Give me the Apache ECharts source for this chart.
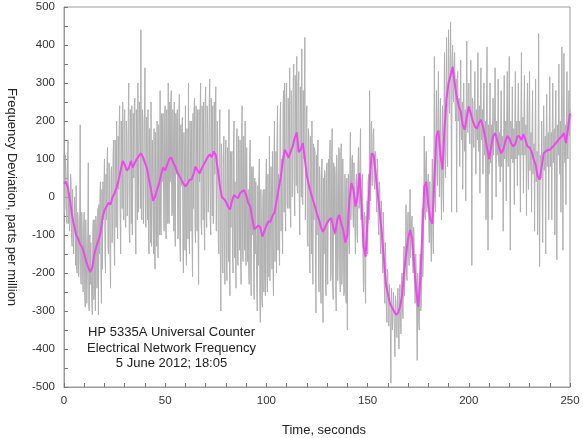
<!DOCTYPE html>
<html>
<head>
<meta charset="utf-8">
<script src="https://cdn.jsdelivr.net/npm/echarts@6/dist/echarts.min.js"></script>
<style>html,body{margin:0;padding:0;background:#fff}#c{width:583px;height:438px}</style>
</head>
<body>
<div id="c"></div>
<script>
// Sample spacing (seconds)
const rawStep = 0.5;      // rawPpm at t = 0, 0.5, 1, ...
const smoothStep = 1;

// Raw counter readings (grey), ppm, at t = 0, 0.5, ... 250
const rawPpm = [
 110,-30,60,-70,150,10,-60,40,-130,20,-150,-30,30,-200,-60,-160,190,-230,-80,-250,
 -40,-290,-120,-220,90,-300,-230,-120,-310,-60,-250,-300,-80,-220,-310,-150,40,-280,-190,-60,
 100,-200,-60,130,-150,20,-240,80,-90,150,-180,60,200,-110,20,240,-150,130,250,-60,
 230,-80,160,20,300,-120,180,240,-100,50,260,-150,120,300,-40,180,440,-60,200,40,
 340,-80,110,230,-150,60,250,-130,0,180,-190,30,200,-160,90,280,-100,40,220,-90,
 240,-110,150,300,-70,40,280,-40,180,250,-130,60,230,-100,270,-170,30,210,-200,100,
 240,-180,70,300,-150,120,200,-210,-30,260,-120,150,230,-230,40,300,-100,160,250,-140,
 290,-80,180,40,310,-100,160,240,-50,60,290,-90,200,-150,230,-300,100,-200,160,-230,
 150,-220,60,230,-260,-80,120,-200,200,40,-240,180,-180,80,150,-230,240,-170,60,200,
 -180,130,20,-230,150,-260,-100,80,-270,-150,40,-300,-180,100,-330,-40,-290,20,-200,-260,
 100,-250,-40,160,-220,20,120,-260,200,-60,-200,240,60,-180,250,100,-150,280,300,-90,
 300,-30,190,340,-80,250,60,350,-50,200,370,10,330,-100,220,390,-20,100,420,-60,
 240,-130,150,-200,30,200,-230,-60,120,-305,-100,150,-250,50,-280,100,-330,-150,60,-260,
 90,-230,-60,150,-200,180,-270,-100,60,-300,40,-150,120,-250,140,-190,-20,-250,30,-280,
 -350,60,-150,170,-60,110,-80,90,-150,60,-120,130,-20,180,-60,60,-250,-40,-280,-80,
 -150,60,280,-10,200,40,180,20,120,-40,80,-100,20,-150,-50,-200,-100,-280,-170,-330,
 -200,-340,-230,-490,-240,-350,-250,-420,-280,-370,-240,-400,-230,-360,-200,-320,-130,-260,-20,-220,
 -40,-180,20,-160,-50,-200,-120,-280,-190,-430,-230,-350,-150,-280,-30,-170,160,-60,120,-40,
 60,-120,40,-170,100,-150,370,-40,280,30,330,0,260,-60,240,-40,380,50,420,80,
 440,220,460,-40,400,250,380,200,-40,330,210,80,360,150,20,300,120,-10,410,170,
 300,140,360,-180,250,130,330,60,200,380,120,10,340,160,60,300,110,-60,395,-140,
 60,300,130,-60,260,180,340,0,200,310,80,40,280,150,-90,320,180,-10,330,80,
 370,-140,180,290,100,-20,330,160,30,300,200,-40,380,120,10,320,140,-50,300,20,
 330,120,-40,280,100,-90,310,60,-100,430,-183,100,200,-120,240,90,-150,270,130,-60,
 317,110,-60,300,160,-100,280,-165,140,350,60,-40,395,-140,378,90,-20,330,100,280,
 230
];

// Raw counter readings (grey), ppm, in-between samples at t = 0.25, 0.75, ... 249.75
const rawPpmMid = [
 -40,110,-60,100,-70,-90,60,-110,20,-150,0,-180,-190,-40,-210,-50,-220,-40,-230,-60,
 -260,-60,-280,-90,-290,-100,-120,-280,-90,-270,-60,-50,-240,-30,-20,0,-200,20,40,30,
 -150,60,80,-140,90,-160,70,-120,110,-110,150,-80,-60,160,180,-40,200,-30,-20,200,
 -60,200,-50,210,-90,230,-70,-100,220,240,-80,230,-60,-40,250,-30,-50,230,-70,220,
 -70,210,-60,-100,180,-120,-130,150,-150,-140,170,-130,-110,190,-100,-80,220,210,-60,220,
 -80,230,-70,-60,250,240,-50,230,-90,-80,220,210,-110,200,-120,190,180,-130,170,-140,
 -120,180,-110,-100,200,-90,-100,220,230,-80,240,-90,-80,230,220,-70,240,-60,-70,250,
 -50,240,-40,250,-60,260,-50,-70,250,230,-90,200,-120,170,-150,140,-170,120,-180,110,
 -160,130,-170,-180,120,110,-150,140,-160,-150,150,-170,160,-140,-160,170,-150,160,-140,-170,
 130,-170,-190,110,-200,80,60,-240,50,40,-250,30,40,-260,20,-270,0,-250,20,40,
 -200,60,-210,-220,80,-190,-180,100,-170,120,140,-140,-120,180,-90,-60,240,-40,-20,260,
 -20,260,-30,-10,280,0,300,20,320,30,20,300,-10,290,0,-10,280,250,-60,220,
 -110,180,-130,160,-150,-160,140,130,-190,110,100,-210,80,-230,60,-250,50,70,-240,80,
 -230,100,120,-220,110,-240,90,80,-250,110,-220,130,-210,120,-230,100,-260,60,-270,50,
 -20,-120,80,-60,100,-40,90,-80,40,-90,80,-30,100,-60,30,-160,-60,-220,-50,-10,
 40,-60,40,190,30,160,40,120,20,100,-60,40,-110,-10,-140,-40,-230,-120,-290,-190,
 -330,-230,-340,-240,-350,-250,-350,-260,-350,-270,-350,-260,-330,-240,-300,-180,-260,-120,-210,-80,
 -150,-50,-160,-60,-170,-80,-230,-150,-300,-200,-330,-210,-300,-150,-210,-20,-50,80,-40,30,
 -80,40,-110,20,-100,80,0,150,60,210,80,180,40,150,20,220,100,250,150,280,
 250,340,270,360,260,350,240,310,300,200,260,240,170,250,230,150,230,250,180,270,
 180,280,170,260,150,240,140,230,150,130,240,250,150,230,240,110,200,210,70,190,
 170,90,190,200,110,210,130,200,110,90,170,180,80,160,180,100,200,210,110,200,
 100,200,100,90,180,190,100,200,210,110,120,200,110,210,200,110,190,190,90,180,
 70,170,160,60,140,130,40,120,100,10,110,50,40,140,70,160,170,80,170,170,
 80,170,180,90,180,190,100,190,110,100,200,210,120,210,120,190,210,110,220,160
];

// Smoothed trace (magenta), ppm, one per second from t=0 to t=250
const smoothPpm = [
 35,40,22,-10,-50,-75,-100,-110,-125,-132,
 -150,-170,-185,-198,-185,-150,-130,-115,-95,-55,
 -35,-25,-15,-20,0,10,25,45,70,95,
 85,70,75,95,78,90,100,108,115,105,
 90,75,45,20,-10,0,20,35,60,78,
 70,85,100,104,90,80,65,55,45,35,
 28,35,45,46,60,80,70,62,75,85,
 95,105,112,105,120,110,72,30,0,-5,
 -12,-25,-33,-10,5,0,-3,10,15,18,
 5,-15,-25,-55,-85,-80,-75,-80,-104,-90,
 -75,-64,-65,-50,-41,-10,20,50,90,124,
 115,103,120,133,155,170,118,125,142,100,
 55,30,10,-8,-25,-45,-60,-80,-92,-80,
 -68,-60,-55,-80,-95,-60,-47,-70,-87,-120,
 -100,-8,37,20,-25,0,63,-20,-130,-157,
 -60,40,115,110,60,10,-40,-95,-160,-227,
 -255,-280,-290,-300,-310,-305,-290,-260,-200,-150,
 -110,-87,-110,-180,-245,-289,-220,-100,28,40,
 -20,-60,-70,50,160,175,110,72,180,260,
 300,320,343,300,265,240,225,190,177,210,
 238,220,200,185,180,195,203,186,160,130,
 100,130,160,168,150,130,115,124,145,160,
 155,140,133,140,160,160,150,165,150,133,
 130,120,100,85,55,46,80,115,120,124,
 124,130,135,142,148,155,160,168,142,180,
 220
];

// Axis ranges and labels
const xRange = [0, 250];
const yRange = [-500, 500];
const xTitle = 'Time, seconds';
const yTitle = 'Frequency Deviation, parts per million';
const noteLines = ['HP 5335A Universal Counter', 'Electrical Network Frequency', '5 June 2012; 18:05'];

const rawData = [];
rawPpm.forEach((v, i) => {
  rawData.push([i * rawStep, v]);
  if (i < rawPpmMid.length) rawData.push([i * rawStep + rawStep / 2, rawPpmMid[i]]);
});
const smoothData = smoothPpm.map((v, i) => [i * smoothStep, v]);

const FONT = '"Liberation Sans", Arial, Helvetica, sans-serif';
const chart = echarts.init(document.getElementById('c'), null, {renderer: 'canvas'});
chart.setOption({
  animation: false,
  backgroundColor: '#ffffff',
  grid: {left: 64, right: 13, top: 7, bottom: 51, outerBoundsMode: 'none', containLabel: false,
         show: true, borderColor: '#9a9a9a', borderWidth: 1, backgroundColor: 'transparent'},
  xAxis: {
    type: 'value', min: xRange[0], max: xRange[1], interval: 50,
    name: xTitle, nameLocation: 'middle', nameGap: 37,
    nameTextStyle: {fontFamily: FONT, fontSize: 13, color: '#222', padding: [0, 0, 0, 14]},
    axisLine: {show: true, onZero: false, lineStyle: {color: '#9a9a9a'}},
    axisTick: {show: true, inside: true, length: 4, lineStyle: {color: '#777'}},
    minorTick: {show: true, splitNumber: 5, length: 4, lineStyle: {color: '#777'}},
    axisLabel: {fontFamily: FONT, fontSize: 11.5, color: '#333', margin: 8},
    splitLine: {show: false}
  },
  yAxis: {
    type: 'value', min: yRange[0], max: yRange[1], interval: 100,
    name: yTitle, nameLocation: 'middle', nameGap: 46, nameRotate: -90,
    nameTextStyle: {fontFamily: FONT, fontSize: 13, color: '#222'},
    axisLine: {show: true, onZero: false, lineStyle: {color: '#9a9a9a'}},
    axisTick: {show: true, inside: true, length: 4, lineStyle: {color: '#777'}},
    minorTick: {show: true, splitNumber: 2, length: 4, lineStyle: {color: '#777'}},
    axisLabel: {fontFamily: FONT, fontSize: 11.5, color: '#333', margin: 9},
    splitLine: {show: false}
  },
  graphic: [{
    type: 'text', left: 177 - 90, top: 325,
    style: {text: noteLines.join('\n'), font: '13px ' + FONT, fill: '#222', align: 'center', lineHeight: 15.5, x: 90, textAlign: 'center'}
  }],
  series: [
    {type: 'line', data: rawData, showSymbol: false, lineStyle: {color: '#b0b0b0', width: 1}, z: 2, clip: true},
    {type: 'line', data: smoothData, showSymbol: false, lineStyle: {color: '#f046f0', width: 2}, z: 3, clip: true}
  ]
});
</script>
</body>
</html>
